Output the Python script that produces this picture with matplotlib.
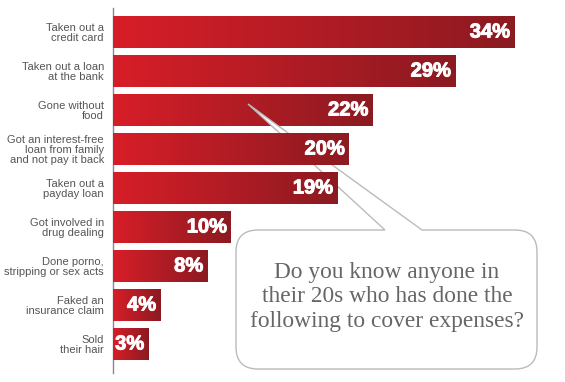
import numpy as np
import matplotlib
matplotlib.use("Agg")
import matplotlib.pyplot as plt
from matplotlib.path import Path
from matplotlib.patches import PathPatch
from matplotlib.transforms import Affine2D, Bbox, TransformedBbox
import matplotlib.patheffects as pe

# data
labels = [
    "Taken out a\ncredit card",
    "Taken out a loan\nat the bank",
    "Gone without\nfood",
    "Got an interest-free\nloan from family\nand not pay it back",
    "Taken out a\npayday loan",
    "Got involved in\ndrug dealing",
    "Done porno,\nstripping or sex acts",
    "Faked an\ninsurance claim",
    "Sold\ntheir hair",
]
values = [34, 29, 22, 20, 19, 10, 8, 4, 3]
question = "Do you know anyone in\ntheir 20s who has done the\nfollowing to cover expenses?"

W, H = 565, 382
fig = plt.figure(figsize=(W / 100, H / 100), dpi=100)
ax = fig.add_axes([113 / W, 9 / H, 452 / W, 365 / H])
ax.patch.set_visible(False)

ypos = np.arange(len(values))
bars = ax.barh(ypos, values, height=0.82, color="#c01c26", zorder=2)

# left-to-right red gradient inside each bar
grad = np.linspace(0, 1, 256).reshape(1, -1)
cmap = matplotlib.colors.LinearSegmentedColormap.from_list("red", ["#d71e28", "#8c1a21"])
for b in bars:
    x, y, w, h = b.get_x(), b.get_y(), b.get_width(), b.get_height()
    im = ax.imshow(grad, cmap=cmap, aspect="auto", extent=[x, x + w, y + h, y],
                   zorder=3, interpolation="bicubic")
    im.set_clip_path(b)

for i, v in enumerate(values):
    ax.annotate(f"{v}%", xy=(v, i), xytext=(-3, 0), textcoords="offset points",
                ha="right", va="center", color="white", fontsize=14.5,
                fontweight="bold", family="Liberation Sans", zorder=4,
                path_effects=[pe.Stroke(linewidth=0.7, foreground="white"), pe.Normal()])

ax.set_xlim(0, 452 / 11.8)
ax.set_ylim(8.744, -0.615)
ax.set_xticks([])
ax.set_yticks(ypos)
ax.set_yticklabels(labels, fontsize=8, color="#555555", linespacing=1.0,
                   family="Liberation Sans")
ax.tick_params(axis="y", length=0, pad=6.5)
for s in ["top", "right", "bottom"]:
    ax.spines[s].set_visible(False)
ax.spines["left"].set_color("#888888")
ax.spines["left"].set_linewidth(1.0)


# speech bubble, in pixel coordinates (y down)
def bubble(x0, y0, x1, y1, r, tb0, tb1, tip):
    verts = [(x0 + r, y0), (tb0, y0), tip, (tb1, y0), (x1 - r, y0),
             (x1, y0), (x1, y0 + r), (x1, y1 - r),
             (x1, y1), (x1 - r, y1), (x0 + r, y1),
             (x0, y1), (x0, y1 - r), (x0, y0 + r),
             (x0, y0), (x0 + r, y0), (x0 + r, y0)]
    codes = [Path.MOVETO, Path.LINETO, Path.LINETO, Path.LINETO, Path.LINETO,
             Path.CURVE3, Path.CURVE3, Path.LINETO,
             Path.CURVE3, Path.CURVE3, Path.LINETO,
             Path.CURVE3, Path.CURVE3, Path.LINETO,
             Path.CURVE3, Path.CURVE3, Path.CLOSEPOLY]
    return Path(verts, codes)


px = Affine2D().scale(1 / W, -1 / H).translate(0, 1) + fig.transFigure
bpath = bubble(236, 230, 537, 369, 22, 385, 422, (248, 104))
back = PathPatch(bpath, facecolor="white", edgecolor="#bbbbbb", lw=1.0,
                 transform=px, zorder=-1)
fig.add_artist(back)
front = PathPatch(bpath, facecolor="white", edgecolor="#bbbbbb", lw=1.0,
                  transform=px, zorder=5)
fig.add_artist(front)
front.set_clip_box(TransformedBbox(Bbox([[0, (H - 131) / H], [1, 1]]), fig.transFigure))

fig.text(387 / W, 1 - 297 / H, question, ha="center", va="center",
         fontsize=16.8, color="#666666", family="Liberation Serif",
         linespacing=1.2, zorder=6)

fig.savefig("out.png", dpi=100)
